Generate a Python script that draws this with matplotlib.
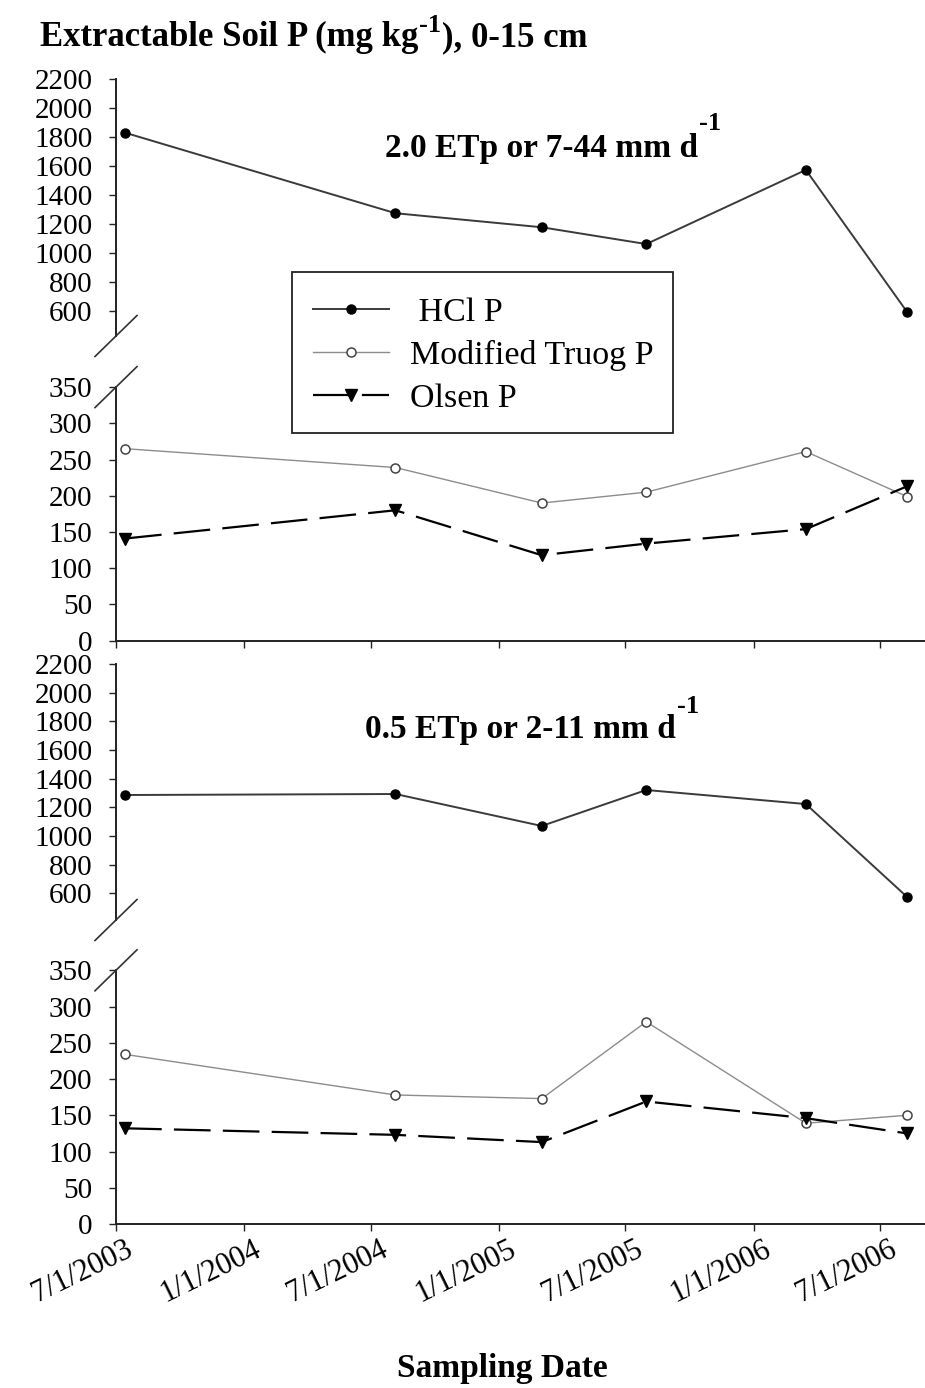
import matplotlib
matplotlib.use("Agg")
import matplotlib.pyplot as plt
import matplotlib.dates as mdates
from matplotlib.lines import Line2D
from matplotlib.patches import Rectangle
from matplotlib.transforms import ScaledTranslation

plt.rcParams['font.family'] = ['Liberation Serif', 'DejaVu Serif']

# sampling dates (same six samplings in both treatments)
sample_dates = ['2003-07-14', '2004-08-05', '2005-03-03', '2005-07-31', '2006-03-17', '2006-08-09']
tick_dates = ['2003-07-01', '2004-01-01', '2004-07-01', '2005-01-01',
              '2005-07-01', '2006-01-01', '2006-07-01']
tick_labels = ['7/1/2003', '1/1/2004', '7/1/2004', '1/1/2005',
               '7/1/2005', '1/1/2006', '7/1/2006']
x_range = ['2003-07-01', '2006-09-04']

hi_ticks = [600, 800, 1000, 1200, 1400, 1600, 1800, 2000, 2200]
lo_ticks = [0, 50, 100, 150, 200, 250, 300, 350]

# 2.0 ETp or 7-44 mm/d
hcl_20 = [1829, 1273, 1176, 1060, 1572, 593]
truog_20 = [265, 239, 190, 205, 261, 199]
olsen_20 = [141, 180, 118, 134, 154, 213]

# 0.5 ETp or 2-11 mm/d
hcl_05 = [1286, 1293, 1070, 1321, 1223, 576]
truog_05 = [234, 178, 173, 279, 139, 150]
olsen_05 = [132, 123, 113, 169, 146, 125]

W, H = 925, 1388
fig = plt.figure(figsize=(W / 100, H / 100), dpi=100)
x = mdates.datestr2num(sample_dates)
xt = mdates.datestr2num(tick_dates)
xl = mdates.datestr2num(x_range)

AX_LEFT = 116
SPINE = '#222222'
TICK_FS = 21


def frame(top, bottom):
    return [AX_LEFT / W, 1 - bottom / H, 1 - AX_LEFT / W, (bottom - top) / H]


def style_axis(ax, yticks, ylim, show_x):
    ax.set_facecolor('none')
    ax.set_xlim(xl)
    ax.set_ylim(ylim)
    ax.set_yticks(yticks)
    ax.set_yticklabels([str(v) for v in yticks])
    for s in ['top', 'right']:
        ax.spines[s].set_visible(False)
    ax.spines['left'].set_color(SPINE)
    ax.spines['left'].set_linewidth(1.4)
    ax.tick_params(axis='y', direction='out', length=5, width=1, color=SPINE,
                   labelsize=TICK_FS, pad=12)
    if show_x:
        ax.spines['bottom'].set_color(SPINE)
        ax.spines['bottom'].set_linewidth(1.4)
        ax.set_xticks(xt)
        ax.tick_params(axis='x', direction='out', length=5, width=1, color=SPINE)
        ax.set_xticklabels([])
    else:
        ax.spines['bottom'].set_visible(False)
        ax.set_xticks([])


def break_marks(y_end, y_start):
    for ym in (y_end, y_start):
        fig.add_artist(Line2D([95 / W, 137 / W], [1 - (ym + 20.5) / H, 1 - (ym - 20.5) / H],
                              transform=fig.transFigure, color='#333333', lw=1.2))


def rich_text(x_px, base_px, pieces):
    renderer = fig.canvas.get_renderer()
    xp = x_px
    for s, size, rise in pieces:
        t = fig.text(xp / W, 1 - (base_px - rise) / H, s, fontsize=size,
                     fontweight='bold', ha='left', va='baseline')
        bb = t.get_window_extent(renderer)
        xp = bb.x1 + 1


def draw_series(ax_hi, ax_lo, hcl, truog, olsen):
    h, = ax_hi.plot(x, hcl, color='#3a3a3a', lw=1.4, marker='o', ms=6.5,
                    mfc='black', mec='black', clip_on=False)
    t, = ax_lo.plot(x, truog, color='#8c8c8c', lw=1.0, marker='o', ms=6.5,
                    mfc='white', mec='#444444', mew=1.1, clip_on=False)
    o, = ax_lo.plot(x, olsen, color='black', lw=1.6, ls=(0, (16.5, 5.5)), marker='v',
                    ms=8.5, mfc='black', mec='black', clip_on=False)
    return h, t, o


# upper treatment (2.0 ETp)
a1 = fig.add_axes(frame(79, 336))
a2 = fig.add_axes(frame(387.1, 640.7))
style_axis(a1, hi_ticks, (425, 2200), False)
style_axis(a2, lo_ticks, (0, 350), True)
h, t, o = draw_series(a1, a2, hcl_20, truog_20, olsen_20)
break_marks(336, 387.1)

# lower treatment (0.5 ETp)
a3 = fig.add_axes(frame(664, 920))
a4 = fig.add_axes(frame(970.3, 1224))
style_axis(a3, hi_ticks, (414, 2200), False)
style_axis(a4, lo_ticks, (0, 350), True)
draw_series(a3, a4, hcl_05, truog_05, olsen_05)
break_marks(920, 970.3)

a4.set_xticklabels(tick_labels, rotation=26, ha='right', va='top',
                   rotation_mode='anchor', fontsize=22)
a4.tick_params(axis='x', pad=3)
shift = ScaledTranslation(9 / 100, 0, fig.dpi_scale_trans)
for lab in a4.get_xticklabels():
    lab.set_transform(lab.get_transform() + shift)

# legend box drawn at its own place, entries placed inside it
fig.add_artist(Rectangle((292 / W, 1 - 433.3 / H), 381.3 / W, 161.6 / H,
                         transform=fig.transFigure, facecolor='white',
                         edgecolor=SPINE, lw=1.3, zorder=9))
leg = fig.legend([h, t, o], [' HCl P', 'Modified Truog P', 'Olsen P'],
                 loc='upper left', bbox_to_anchor=(312.7 / W, 1 - 297.5 / H),
                 bbox_transform=fig.transFigure,
                 fontsize=24.5, frameon=False, numpoints=1, handlelength=2.25,
                 handletextpad=0.6, borderpad=0, labelspacing=0.345,
                 borderaxespad=0)
leg.set_zorder(10)

rich_text(40, 46, [('Extractable Soil P (mg kg', 25, 0), ('-1', 19, 14),
                   ('), 0-15 cm', 25, 0)])
rich_text(385, 156.7, [('2.0 ETp or 7-44 mm d', 24, 0), ('-1', 19, 27)])
rich_text(365, 738, [('0.5 ETp or 2-11 mm d', 24, 0), ('-1', 19, 25)])

fig.text(502 / W, 1 - 1368 / H, 'Sampling Date', ha='center', va='center',
         fontsize=24, fontweight='bold')

fig.savefig('out.png', dpi=100)
